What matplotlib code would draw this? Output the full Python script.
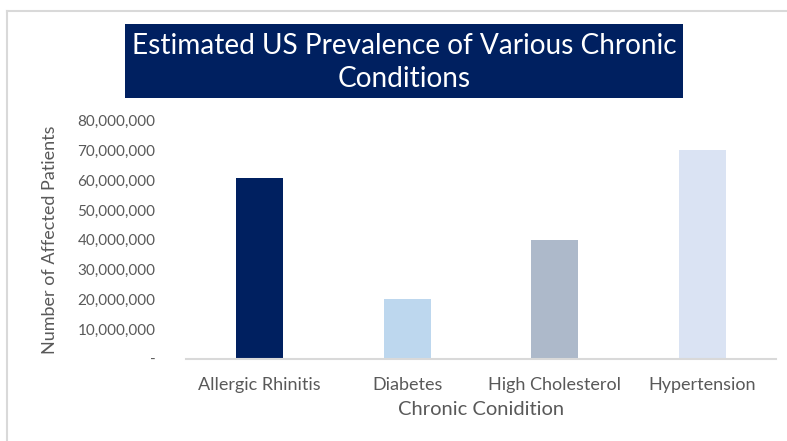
import matplotlib
matplotlib.use("Agg")
import matplotlib.pyplot as plt
from matplotlib.lines import Line2D
from matplotlib.patches import Rectangle
from matplotlib.ticker import FuncFormatter

conditions = ["Allergic Rhinitis", "Diabetes", "High Cholesterol", "Hypertension"]
patients = [60_800_000, 20_000_000, 40_000_000, 70_000_000]
bar_colors = ["#002060", "#BDD7EE", "#ADB9CA", "#DAE3F3"]
y_ticks = [0, 10_000_000, 20_000_000, 30_000_000, 40_000_000,
           50_000_000, 60_000_000, 70_000_000, 80_000_000]
title_line1 = "Estimated US Prevalence of Various Chronic"
title_line2 = "Conditions"

W, H = 787, 441
plt.rcParams["font.family"] = ["Lato", "DejaVu Sans"]
fig = plt.figure(figsize=(W / 100, H / 100), dpi=100)

def px(x, y):
    return x / W, 1 - y / H

# chart frame
frame_col = "#D9D9D9"
fig.add_artist(Line2D([7 / W, 7 / W], [0, 1 - 11 / H], transform=fig.transFigure,
                      color=frame_col, lw=1.5))
fig.add_artist(Line2D([7 / W, 1], [1 - 11 / H, 1 - 11 / H], transform=fig.transFigure,
                      color=frame_col, lw=1.5))

# title banner
x0, y0 = px(125, 98)
x1, y1 = px(683, 24)
fig.add_artist(Rectangle((x0, y0), x1 - x0, y1 - y0, transform=fig.transFigure,
                         facecolor="#002060", edgecolor="none"))
cx = (x0 + x1) / 2
fig.text(cx, px(0, 46)[1], title_line1, ha="center", va="center",
         color="white", fontsize=20.2)
fig.text(cx, px(0, 79)[1], title_line2, ha="center", va="center",
         color="white", fontsize=20.2)

left, right = 186, 776
top, bottom = 120.7, 358.8
ax = fig.add_axes([left / W, 1 - bottom / H, (right - left) / W, (bottom - top) / H])
xs = range(len(conditions))
ax.bar(xs, patients, width=0.32, color=bar_colors)
ax.set_xlim(-0.5, len(conditions) - 0.5)
ax.set_ylim(0, 80_000_000)
ax.set_yticks(y_ticks)
ax.yaxis.set_major_formatter(FuncFormatter(lambda v, p: "-" if v == 0 else f"{int(v):,}"))
ax.set_xticks(list(xs))
ax.set_xticklabels(conditions)

for s in ["top", "right", "left"]:
    ax.spines[s].set_visible(False)
ax.spines["bottom"].set_color("#D9D9D9")
ax.spines["bottom"].set_linewidth(1.5)
ax.tick_params(axis="y", length=0, labelcolor="#595959", labelsize=11, pad=22)
ax.tick_params(axis="x", length=0, labelcolor="#595959", labelsize=13, pad=13)

ax.set_ylabel("Number of Affected Patients", color="#595959", fontsize=13, labelpad=14)
ax.set_xlabel("Chronic Conidition", color="#595959", fontsize=14.5, labelpad=6)

fig.savefig("out.png", dpi=100)
